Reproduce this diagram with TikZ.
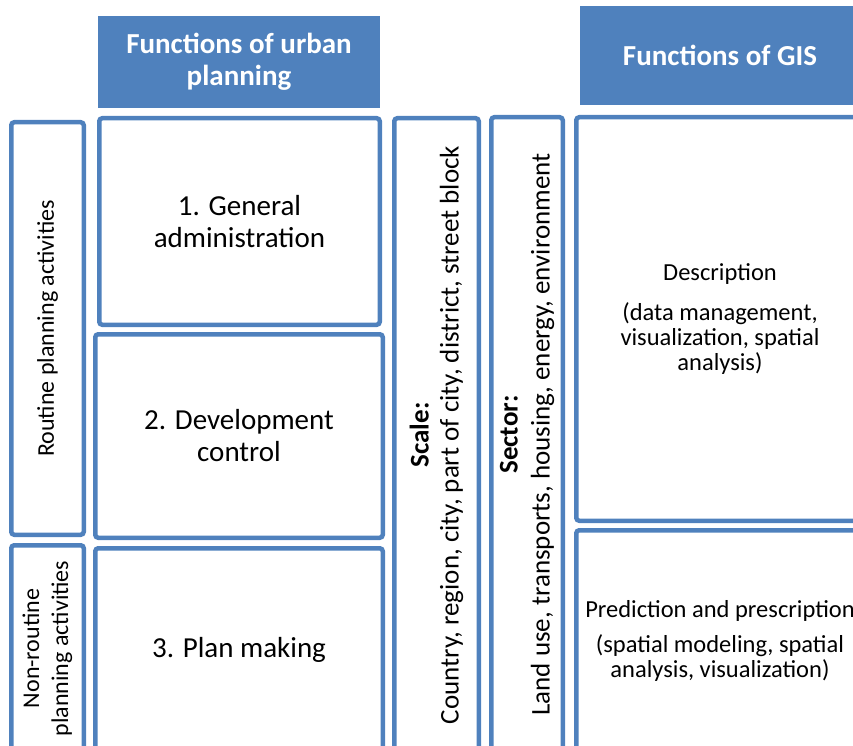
\documentclass[tikz,border=0pt]{standalone}
\usepackage{fontspec}
\setmainfont{Carlito}
\definecolor{gisblue}{HTML}{4F81BD}
\tikzset{
  box/.style={draw=gisblue, line width=4.5pt, rounded corners=3pt, inner sep=0pt,
    align=center, font=\fontsize{29}{32}\selectfont},
  head/.style={fill=gisblue, text=white, inner sep=0pt, align=center,
    font=\fontsize{29}{32}\selectfont\bfseries},
  side/.style={rotate=90, font=\fontsize{24}{29}\selectfont},
  gis/.style={font=\fontsize{24.5}{25}\selectfont}
}
\begin{document}
\begin{tikzpicture}[x=1pt,y=-1pt]
\useasboundingbox (0,0) rectangle (853,746);
\clip (0,0) rectangle (853,746);
\node[head, minimum width=282pt, minimum height=92pt] (urbanhd) at (239,62) {Functions of urban\\planning};
\node[head, minimum width=280pt, minimum height=99pt] (gishd) at (720,55.5) {Functions of GIS};
\node[box, side, minimum width=412.5pt, minimum height=72.5pt] (routine) at (47.5,328.5) {Routine planning activities};
\node[box, side, minimum width=206.5pt, minimum height=72.5pt] (nonroutine) at (47.5,648.5) {Non-routine\\planning activities};
\node[box, minimum width=280.5pt, minimum height=206.5pt] (general) at (239.5,221.5) {1. General\\administration};
\node[box, minimum width=287.5pt, minimum height=203.5pt] (devctrl) at (239,436) {2. Development\\control};
\node[box, minimum width=287.5pt, minimum height=203.5pt] (planmk) at (239,650) {3. Plan making};
\node[box, side, font=\fontsize{27}{30}\selectfont, minimum width=633.5pt, minimum height=84.5pt] (scale) at (436.5,435)
  {\bfseries Scale:\\Country, region, city, part of city, district, street block};
\node[box, side, font=\fontsize{27}{32}\selectfont, minimum width=634.5pt, minimum height=71.5pt] (sector) at (527,434.5)
  {\bfseries Sector:\\Land use, transports, housing, energy, environment};
\node[box, gis, minimum width=287.5pt, minimum height=403.5pt] (descr) at (720,319)
  {Description\\[15pt](data management,\\visualization, spatial\\analysis)};
\node[box, gis, minimum width=287.5pt, minimum height=221.5pt] (predict) at (720,641)
  {Prediction and prescription\\[10pt](spatial modeling, spatial\\analysis, visualization)};
\end{tikzpicture}
\end{document}
